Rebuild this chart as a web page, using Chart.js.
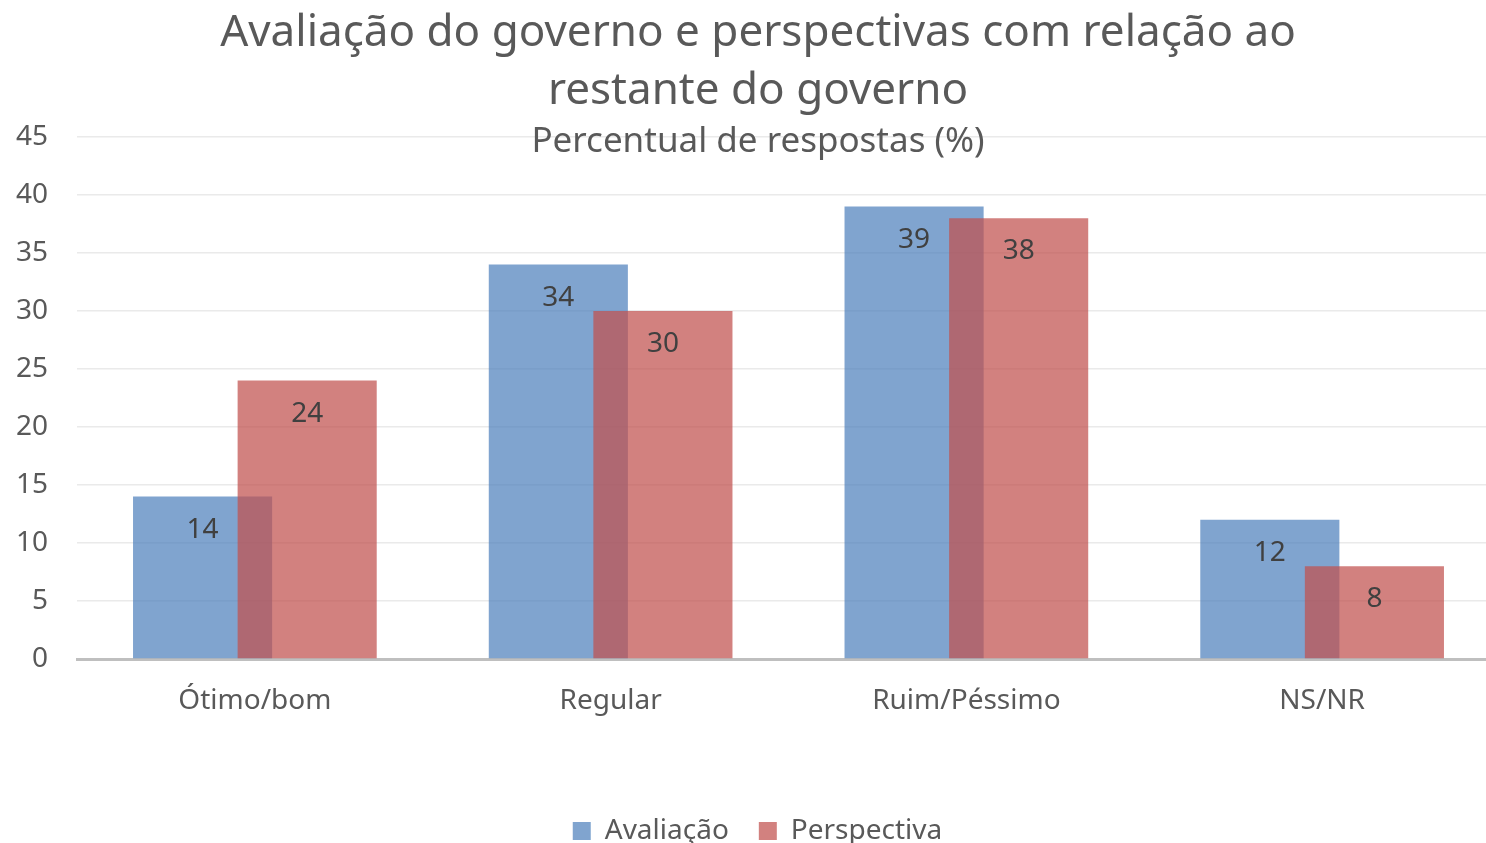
<!DOCTYPE html>
<html>
<head>
<meta charset="utf-8">
<title>Avaliação do governo</title>
<script src="https://cdn.jsdelivr.net/npm/chart.js@4.4.1/dist/chart.umd.min.js"></script>
<style>
  html, body { margin: 0; padding: 0; background: #fff; overflow: hidden; }
  /* the plot area runs a little past the right edge in the original, so the canvas does too */
  #wrap { width: 1500px; height: 843px; position: relative; }
</style>
</head>
<body>
<div id="wrap"><canvas id="chart"></canvas></div>
<script>
'use strict';
const categories = ['Ótimo/bom', 'Regular', 'Ruim/Péssimo', 'NS/NR'];
const avaliacao = [14, 34, 39, 12];
const perspectiva = [24, 30, 38, 8];
const seriesNames = ['Avaliação', 'Perspectiva'];
const yMin = 0, yMax = 45, yStep = 5;
const titleLines = ['Avaliação do governo e perspectivas com relação ao', 'restante do governo'];
const subtitle = 'Percentual de respostas (%)';

const FONT = '"Noto Sans", "Open Sans", sans-serif';
const GREY = '#595959';

// Excel draws the second series on top of the first, Chart.js does the opposite,
// so draw the bars ourselves in forward order, then the value labels
const overlapBars = {
  id: 'overlapBars',
  beforeDatasetsDraw(chart) {
    const ctx = chart.ctx;
    const metas = chart.getSortedVisibleDatasetMetas();
    metas.forEach(m => m.controller.draw());

    ctx.save();
    ctx.font = `28px ${FONT}`;
    ctx.fillStyle = '#404040';
    ctx.textAlign = 'center';
    ctx.textBaseline = 'middle';
    metas.forEach(m => {
      const values = chart.data.datasets[m.index].data;
      m.data.forEach((bar, i) => ctx.fillText(String(values[i]), bar.x, bar.y + 33));
    });
    ctx.restore();
    return false;
  },
  afterDraw(chart) {
    const ctx = chart.ctx;
    const cx = 758;
    ctx.save();
    ctx.fillStyle = GREY;
    ctx.textAlign = 'center';
    ctx.textBaseline = 'middle';
    ctx.font = `44px ${FONT}`;
    ctx.fillText(titleLines[0], cx, 33);
    ctx.fillText(titleLines[1], cx, 91);
    ctx.font = `35px ${FONT}`;
    ctx.fillText(subtitle, cx, 142);
    ctx.restore();
  }
};

new Chart(document.getElementById('chart'), {
  type: 'bar',
  data: {
    labels: categories,
    datasets: [
      {
        label: seriesNames[0],
        data: avaliacao,
        backgroundColor: 'rgba(79,129,189,0.72)',
        borderWidth: 0,
      },
      {
        label: seriesNames[1],
        data: perspectiva,
        backgroundColor: 'rgba(192,80,77,0.72)',
        borderWidth: 0,
      },
    ],
  },
  options: {
    responsive: true,
    maintainAspectRatio: false,
    animation: false,
    categoryPercentage: 0.588,
    barPercentage: 1.33,
    layout: { padding: { top: 137, right: 0, left: 15, bottom: -12 } },
    plugins: {
      title: { display: false },
      tooltip: { enabled: false },
      legend: {
        position: 'bottom',
        labels: {
          color: GREY,
          font: { family: FONT, size: 28 },
          boxWidth: 18,
          boxHeight: 18,
          padding: 30,
        },
      },
    },
    scales: {
      x: {
        grid: { display: false },
        border: { color: '#BFBFBF', width: 3 },
        ticks: { color: GREY, font: { family: FONT, size: 28 }, padding: 17 },
        afterFit(scale) { scale.height = 128; },
      },
      y: {
        min: yMin,
        max: yMax,
        ticks: { stepSize: yStep, color: GREY, font: { family: FONT, size: 28 }, padding: 29 },
        grid: {
          drawTicks: false,
          lineWidth: 1.5,
          color: c => (c.tick && c.tick.value === 0 ? 'rgba(0,0,0,0)' : '#EAEAEA'),
        },
        border: { display: false },
        afterFit(scale) { scale.width = 62; },
      },
    },
  },
  plugins: [overlapBars],
});
</script>
</body>
</html>
